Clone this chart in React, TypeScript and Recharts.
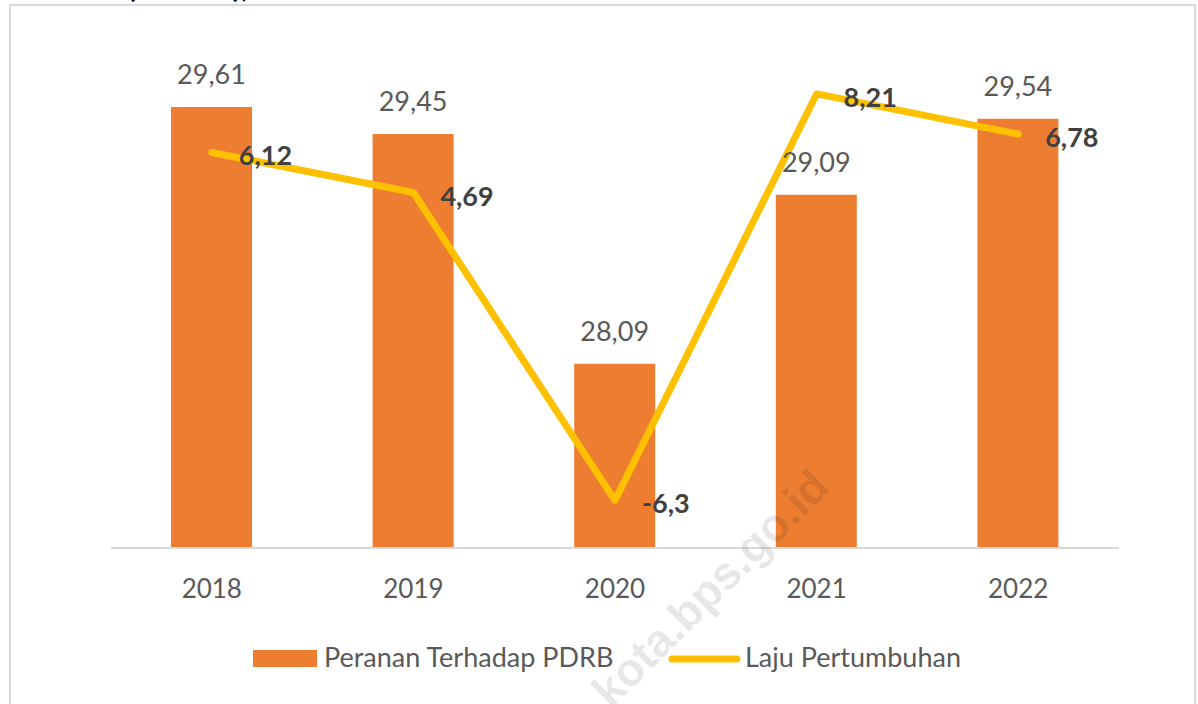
import React from 'react'
import { ComposedChart, Bar, Line, XAxis, YAxis, LabelList } from 'recharts'

const years = ['2018', '2019', '2020', '2021', '2022']
const peranan = [29.61, 29.45, 28.09, 29.09, 29.54]
const laju = [6.12, 4.69, -6.3, 8.21, 6.78]
const seriesNames = ['Peranan Terhadap PDRB', 'Laju Pertumbuhan']
const seriesColors = ['#ED7D31', '#FFC000']

const data = years.map((year, i) => ({ year, peranan: peranan[i], laju: laju[i] }))

const W = 1198
const H = 704
const FONT = 'Lato, "Open Sans", sans-serif'

const fmt = (v: number) => String(v).replace('.', ',')

const BarLabel = (props: any) => {
  const { x, y, width, value } = props
  return (
    <text x={x + width / 2} y={y - 23} textAnchor="middle" fill="#595959" fontSize={27} fontFamily={FONT}>
      {fmt(value)}
    </text>
  )
}

const LineLabel = (props: any) => {
  const { x, y, value } = props
  return (
    <text x={x + 27} y={y + 13} fill="#404040" fontSize={27} fontWeight="bold" fontFamily={FONT}>
      {fmt(value)}
    </text>
  )
}

const YearTick = (props: any) => {
  const { x, y, payload } = props
  return (
    <text x={x} y={y + 50} textAnchor="middle" fill="#595959" fontSize={26} fontFamily={FONT}>
      {payload.value}
    </text>
  )
}

export default function App() {
  return (
    <div style={{ position: 'absolute', left: 0, top: 0, width: W, height: H, overflow: 'hidden', background: '#fff' }}>
      {/* frame of the embedded chart */}
      <div
        style={{
          position: 'absolute',
          left: 9,
          top: 4,
          width: 1183,
          height: 740,
          border: '2px solid #d9d9d9',
        }}
      />
      <svg width={W} height={20} style={{ position: 'absolute', left: 0, top: 0 }}>
        <text x={127} y={-3} fontSize={32} fontWeight="bold" fill="#000" fontFamily={FONT}>
          (Persen),
        </text>
      </svg>
      <div style={{ position: 'absolute', left: 0, top: 0 }}>
        <ComposedChart width={W} height={H} data={data} margin={{ top: 41, right: 79, left: 111, bottom: 126 }}>
          <XAxis
            dataKey="year"
            height={30}
            tickLine={false}
            tickSize={0}
            tickMargin={0}
            axisLine={{ stroke: '#d9d9d9', strokeWidth: 2 }}
            tick={<YearTick />}
            interval={0}
          />
          <YAxis yAxisId="left" hide domain={[27, 30]} />
          <YAxis yAxisId="right" hide orientation="right" domain={[-8, 10.1]} />
          <Bar yAxisId="left" dataKey="peranan" name={seriesNames[0]} fill={seriesColors[0]} barSize={81} isAnimationActive={false}>
            <LabelList dataKey="peranan" content={<BarLabel />} />
          </Bar>
          <Line
            yAxisId="right"
            type="linear"
            dataKey="laju"
            name={seriesNames[1]}
            stroke={seriesColors[1]}
            strokeWidth={7}
            strokeLinecap="round"
            strokeLinejoin="round"
            dot={false}
            isAnimationActive={false}
          >
            <LabelList dataKey="laju" content={<LineLabel />} />
          </Line>
        </ComposedChart>
      </div>
      {/* legend + watermark */}
      <svg width={W} height={H} style={{ position: 'absolute', left: 0, top: 0, pointerEvents: 'none' }}>
        <rect x={253} y={650} width={64} height={17} fill={seriesColors[0]} />
        <text x={324} y={667} fontSize={27} fill="#595959" fontFamily={FONT}>
          {seriesNames[0]}
        </text>
        <line x1={672} y1={659} x2={737} y2={659} stroke={seriesColors[1]} strokeWidth={7} strokeLinecap="round" />
        <text x={745} y={667} fontSize={27} fill="#595959" fontFamily={FONT}>
          {seriesNames[1]}
        </text>
        <text
          x={710}
          y={588}
          transform="rotate(-45 710 588)"
          textAnchor="middle"
          dominantBaseline="central"
          fontSize={46}
          fontWeight="bold"
          fontFamily='"Liberation Sans", Arial, sans-serif'
          fill="#000"
          fillOpacity={0.1}
        >
          kota.bps.go.id
        </text>
      </svg>
    </div>
  )
}
